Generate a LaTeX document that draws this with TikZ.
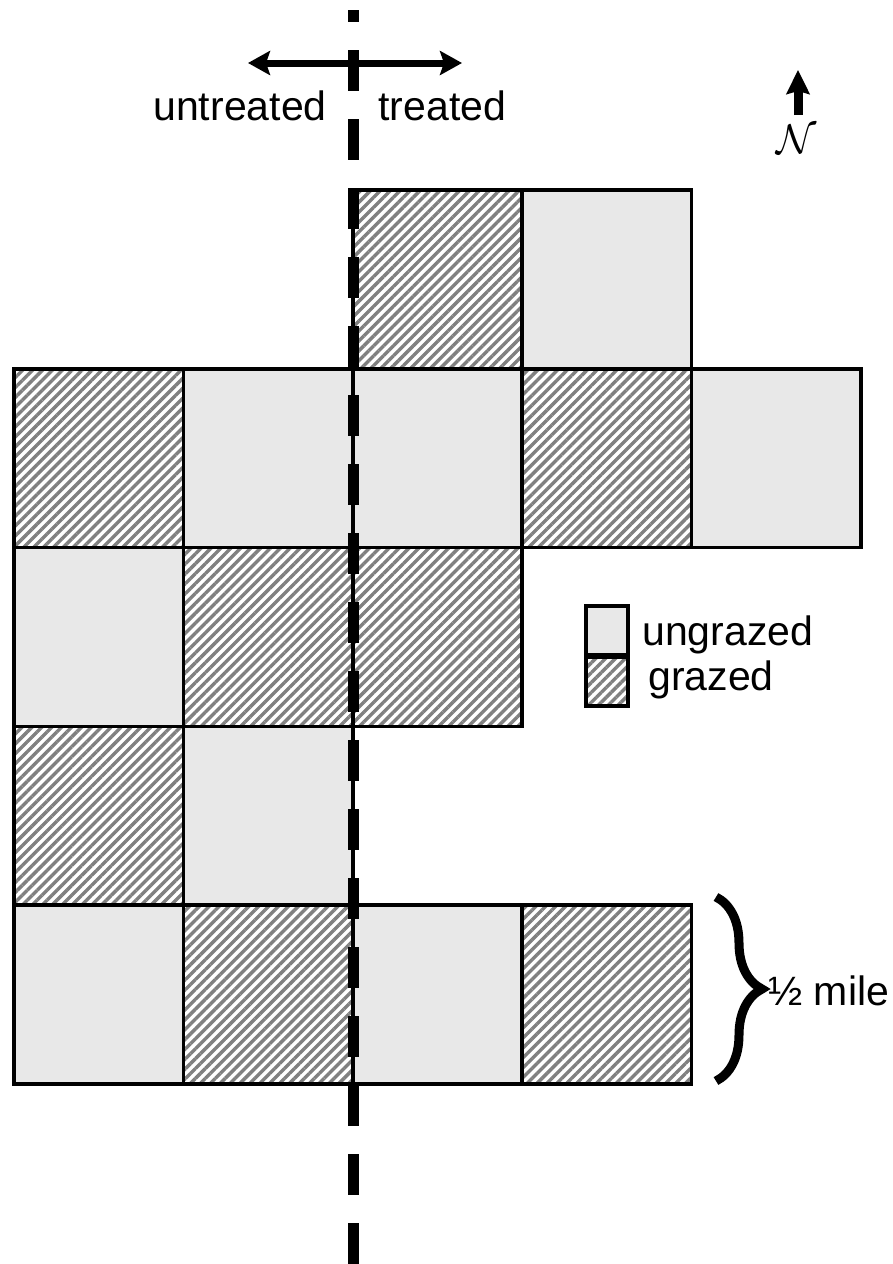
\documentclass[tikz,border=0pt]{standalone}
\usepackage{fontspec}
\setmainfont{Liberation Sans}
\usetikzlibrary{arrows.meta}
\usetikzlibrary{patterns.meta}
\usetikzlibrary{decorations.pathreplacing}

\tikzset{
  cellline/.style={line width=1.8pt},
  plaincell/.style={cellline, fill=black!9},
  hatchcell/.style={cellline, pattern={Lines[angle=45,distance=3.5pt,line width=1.7pt]}, pattern color=black!50},
  lbl/.style={font=\fontsize{20.5pt}{24pt}\selectfont, inner sep=0pt, anchor=base west},
}

\begin{document}
\begin{tikzpicture}[x=0.5pt, y=-0.5pt]

        \useasboundingbox (0,0) rectangle (893,1264);

        % Plots: column/row/kind
        \foreach \c/\r/\kind in {2/0/hatchcell, 3/0/plaincell,
                                 0/1/hatchcell, 1/1/plaincell, 2/1/plaincell, 3/1/hatchcell, 4/1/plaincell,
                                 0/2/plaincell, 1/2/hatchcell, 2/2/hatchcell,
                                 0/3/hatchcell, 1/3/plaincell,
                                 0/4/plaincell, 1/4/hatchcell, 2/4/plaincell, 3/4/hatchcell} {
            \draw[\kind] ({14+169.4*\c},{190+178.8*\r}) rectangle ++(169.4,178.8);
        }

        % Treatment boundary
        \draw[line width=5.5pt, dash pattern=on 20.5pt off 14pt, dash phase=14.5pt] (353,10) -- (353,1264);

        % Arrow and labels at the top
        \coordinate (west) at (248,63);
        \coordinate (east) at (462,63);
        \draw[line width=3.5pt, {Stealth[length=11pt,width=12pt,inset=2pt]}-{Stealth[length=11pt,width=12pt,inset=2pt]}] (west) -- (east);
        \node[lbl] (untreated) at (153,120) {untreated};
        \node[lbl] (treated) at (378,120) {treated};

        % North arrow
        \coordinate (nbase) at (798,115);
        \coordinate (ntip) at (798,70);
        \draw[line width=4.5pt, -{Stealth[length=12pt,width=11.5pt,inset=1.5pt]}] (nbase) -- (ntip);
        \node (north) at (797,139) {\fontsize{22pt}{26pt}\selectfont$\mathcal{N}$};

        % Legend
        \draw[line width=2pt, fill=black!9] (586,606) rectangle (628,655);
        \draw[line width=2pt, pattern={Lines[angle=45,distance=3.5pt,line width=1.7pt]}, pattern color=black!50] (586,657) rectangle (628,706);
        \draw[line width=3pt] (586,656) -- (628,656);
        \node[lbl] (ungrazed) at (642,645) {ungrazed};
        \node[lbl] (grazed) at (648,690) {grazed};

        % Scale
        \coordinate (btop) at (716,897);
        \coordinate (bbot) at (716,1081);
        \draw[line width=4.5pt, decorate, decoration={brace, amplitude=23pt}] (btop) -- (bbot);
        \node[lbl] (halfmile) at (768,1005) {½ mile};

    \end{tikzpicture}
\end{document}
